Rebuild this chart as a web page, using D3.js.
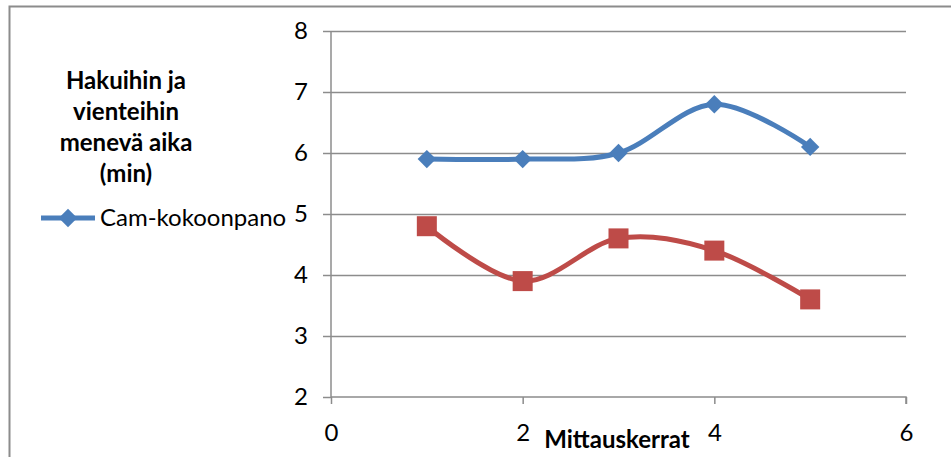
<!DOCTYPE html>
<html><head><meta charset="utf-8">
<script src="https://cdn.jsdelivr.net/npm/d3@7"></script>
<style>body{margin:0;background:#fff;}svg{display:block;font-family:Lato,"Liberation Sans",sans-serif;}</style>
</head><body><svg id="c" width="951" height="457"></svg>
<script>
const xValues = [1, 2, 3, 4, 5];
const camValues = [5.9, 5.9, 6.0, 6.8, 6.1];
const otherValues = [4.8, 3.9, 4.6, 4.4, 3.6];
const xTicks = [0, 2, 4, 6];
const yTicks = [2, 3, 4, 5, 6, 7, 8];
const titleLines = ["Hakuihin ja", "vienteihin", "menevä aika", "(min)"];
const legendLabel = "Cam-kokoonpano";
const xTitle = "Mittauskerrat";

const svg = d3.select("#c");
const x = d3.scaleLinear().domain([0, 6]).range([331, 906]);
const y = d3.scaleLinear().domain([2, 8]).range([397, 31]);

// outer border
svg.append("rect").attr("x", 9.5).attr("y", 6.5).attr("width", 1000).attr("height", 1000)
  .attr("fill", "none").attr("stroke", "#8c8c8c").attr("stroke-width", 2);

// gridlines
svg.append("g").selectAll("line").data(yTicks.filter(d => d > 2)).join("line")
  .attr("x1", x(0)).attr("x2", x(6)).attr("y1", d => Math.round(y(d)) + 0.5).attr("y2", d => Math.round(y(d)) + 0.5)
  .attr("stroke", "#8c8c8c").attr("stroke-width", 1.5);

// y axis
const yAxis = svg.append("g").attr("transform", `translate(${x(0)},0)`)
  .call(d3.axisLeft(y).tickValues(yTicks).tickSize(8).tickPadding(15).tickFormat(d3.format("d")));
// x axis
const xAxis = svg.append("g").attr("transform", `translate(0,${y(2)})`)
  .call(d3.axisBottom(x).tickValues(xTicks).tickSize(7).tickPadding(20).tickFormat(d3.format("d")));
[yAxis, xAxis].forEach(g => {
  g.select(".domain").attr("stroke", "#8c8c8c").attr("stroke-width", 1.5);
  g.selectAll(".tick line").attr("stroke", "#8c8c8c").attr("stroke-width", 1.5);
  g.selectAll("text").attr("fill", "#000").style("font-size", "24px").style("font-family", "Lato, sans-serif");
});
xAxis.select(".domain").attr("d", `M${x(0)},0H${x(6)}V7`);
yAxis.select(".domain").attr("d", `M0,${y(8)}V${y(2)}`);

const line = d3.line().x((d, i) => x(xValues[i])).y(d => y(d)).curve(d3.curveCardinal.tension(0));

const blue = "#4A7EBB", red = "#BE4B48";
svg.append("path").attr("d", line(camValues)).attr("fill", "none").attr("stroke", blue).attr("stroke-width", 5);
svg.append("path").attr("d", line(otherValues)).attr("fill", "none").attr("stroke", red).attr("stroke-width", 5);

const diamond = d3.symbol().type(d3.symbolSquare).size(170);
svg.append("g").selectAll("path").data(camValues).join("path")
  .attr("d", diamond)
  .attr("transform", (d, i) => `translate(${x(xValues[i])},${y(d)}) rotate(45)`)
  .attr("fill", blue);
svg.append("g").selectAll("rect").data(otherValues).join("rect")
  .attr("x", (d, i) => x(xValues[i]) - 10).attr("y", d => y(d) - 10)
  .attr("width", 20).attr("height", 20).attr("fill", red);

// y title
const t = svg.append("text").attr("text-anchor", "middle").style("font-weight", "bold").style("font-size", "24px");
titleLines.forEach((s, i) => t.append("tspan").attr("x", 126).attr("y", 89 + i * 31).text(s));

// legend
svg.append("line").attr("x1", 41).attr("x2", 95).attr("y1", 218).attr("y2", 218).attr("stroke", blue).attr("stroke-width", 5);
svg.append("path").attr("d", diamond).attr("transform", "translate(68,218) rotate(45)").attr("fill", blue);
svg.append("text").attr("x", 100).attr("y", 226).style("font-size", "24px").text(legendLabel);

// x title
svg.append("text").attr("x", 617).attr("y", 448).attr("text-anchor", "middle").style("font-weight", "bold").style("font-size", "24px").text(xTitle);
</script></body></html>
